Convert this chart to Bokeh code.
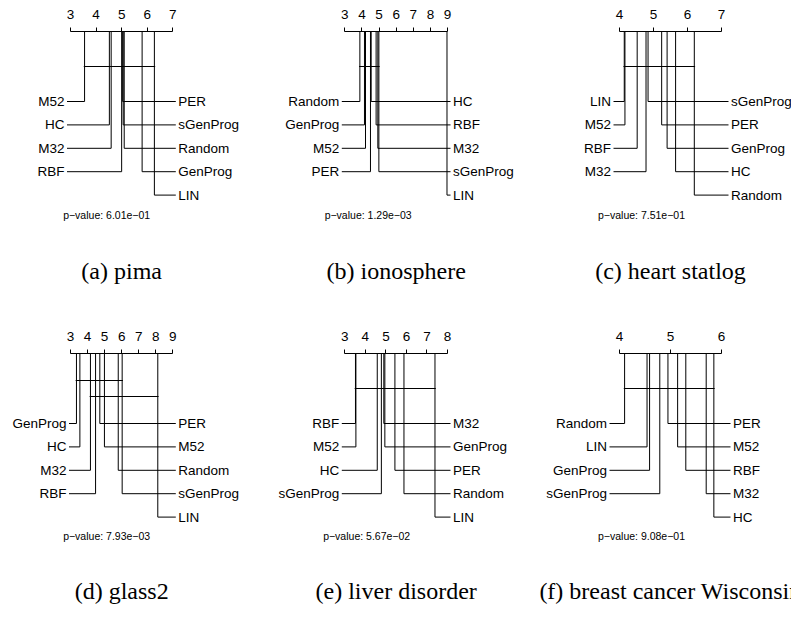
from bokeh.plotting import figure
from bokeh.layouts import gridplot
from bokeh.models import Range1d, LinearAxis, FixedTicker, ColumnDataSource
from bokeh.embed import file_html
from bokeh.resources import INLINE
from bokeh.core.properties import value

# Average Friedman ranks of each method per dataset (lower is better)
pima_methods = ["M52", "HC", "M32", "RBF", "PER", "sGenProg", "Random", "GenProg", "LIN"]
pima_ranks = [3.55, 4.52, 4.59, 5.00, 5.04, 5.06, 5.10, 5.80, 6.28]
pima_cliques = [("M52", "LIN")]

iono_methods = ["Random", "GenProg", "M52", "PER", "HC", "RBF", "M32", "sGenProg", "LIN"]
iono_ranks = [3.88, 4.15, 4.21, 4.50, 4.54, 4.83, 4.93, 4.99, 8.97]
iono_cliques = [("Random", "sGenProg")]

heart_methods = ["LIN", "M52", "RBF", "M32", "sGenProg", "PER", "GenProg", "HC", "Random"]
heart_ranks = [4.14, 4.16, 4.52, 4.78, 4.84, 5.24, 5.40, 5.65, 6.20]
heart_cliques = [("LIN", "Random")]

glass_methods = ["GenProg", "HC", "M32", "RBF", "PER", "M52", "Random", "sGenProg", "LIN"]
glass_ranks = [3.35, 3.55, 4.17, 4.47, 4.72, 4.99, 5.80, 6.03, 8.12]
glass_cliques = [("GenProg", "sGenProg"), ("M32", "LIN")]

liver_methods = ["RBF", "M52", "HC", "sGenProg", "M32", "GenProg", "PER", "Random", "LIN"]
liver_ranks = [3.52, 3.54, 4.58, 4.78, 4.90, 4.95, 5.44, 5.88, 7.39]
liver_cliques = [("RBF", "LIN")]

breast_methods = ["Random", "LIN", "GenProg", "sGenProg", "PER", "M52", "RBF", "M32", "HC"]
breast_ranks = [4.10, 4.54, 4.59, 4.79, 4.95, 5.14, 5.30, 5.70, 5.85]
breast_cliques = [("Random", "HC")]

p_values = ["6.01e-01", "1.29e-03", "7.51e-01", "7.93e-03", "5.67e-02", "9.08e-01"]
captions = ["(a) pima", "(b) ionosphere", "(c) heart statlog",
            "(d) glass2", "(e) liver disorder", "(f) breast cancer Wisconsin"]
rank_axes = [(3, 7), (3, 9), (4, 7), (3, 9), (3, 8), (4, 6)]

panels = [
    (pima_methods, pima_ranks, pima_cliques),
    (iono_methods, iono_ranks, iono_cliques),
    (heart_methods, heart_ranks, heart_cliques),
    (glass_methods, glass_ranks, glass_cliques),
    (liver_methods, liver_ranks, liver_cliques),
    (breast_methods, breast_ranks, breast_cliques),
]

# ---- layout (pixels) ----
COL_W = [264, 264, 263]
ROW_H = [322, 295]
AXIS_TOP = 31                                      # axis line distance from panel top
AXIS_PX = [(70, 172.3), (80.3, 183.0), (91, 193)]  # rank axis span inside each column
LEFT_PAD = [3.5, 3.0, 6.0, 1.5, 3.0, 10.0]
RIGHT_PAD = [3.0, 3.0, 7.0, 3.0, 3.0, 9.0]
TEXT_GAP = 2.5
ROW0, ROW_STEP = 70.0, 23.4
CLIQUE_Y, CLIQUE_STEP = 35.0, 16.0
PVAL_DX = [-15, -28, -29, -15, -29.5, -29]
PVAL_Y = [183, 182]
CAPTION_Y = [239, 237]

SANS = value("Liberation Sans")
SERIF = value("Liberation Serif")


def cd_panel(idx, methods, ranks, cliques):
    col, row = idx % 3, idx // 3
    W, H = COL_W[col], ROW_H[row]
    lo, hi = rank_axes[idx]
    a0, a1 = AXIS_PX[col]
    k = (a1 - a0) / (hi - lo)          # pixels per rank unit
    x0 = lo - a0 / k
    frame_h = H - AXIS_TOP

    p = figure(width=W, height=H,
               x_range=Range1d(x0, x0 + W / k),
               y_range=Range1d(frame_h, 0),
               x_axis_location=None, y_axis_location=None,
               toolbar_location=None, output_backend="svg",
               min_border_top=AXIS_TOP, min_border_left=0,
               min_border_right=0, min_border_bottom=0,
               outline_line_color=None, background_fill_color="white")
    p.grid.visible = False

    axis = LinearAxis(ticker=FixedTicker(ticks=list(range(lo, hi + 1))),
                      bounds=(lo, hi), major_tick_in=0, major_tick_out=4,
                      minor_tick_line_color=None, major_label_standoff=9,
                      axis_line_color="black", major_tick_line_color="black",
                      major_label_text_font="Liberation Sans",
                      major_label_text_font_size="13.5px",
                      major_label_text_color="black")
    p.add_layout(axis, "above")

    order = sorted(range(len(ranks)), key=lambda i: ranks[i])
    n_left = len(order) // 2
    left, right = order[:n_left], order[n_left:]

    sx0, sy0, sx1, sy1 = [], [], [], []
    lx, ly, lt = [], [], []
    rx, ry, rt = [], [], []
    left_end = lo - LEFT_PAD[idx] / k
    right_end = hi + RIGHT_PAD[idx] / k
    for r, i in enumerate(left):
        y = ROW0 + r * ROW_STEP
        sx0 += [ranks[i], ranks[i]]; sy0 += [0, y]
        sx1 += [ranks[i], left_end]; sy1 += [y, y]
        lx.append(left_end - TEXT_GAP / k); ly.append(y); lt.append(methods[i])
    for r, i in enumerate(right):
        y = ROW0 + r * ROW_STEP
        sx0 += [ranks[i], ranks[i]]; sy0 += [0, y]
        sx1 += [ranks[i], right_end]; sy1 += [y, y]
        rx.append(right_end + TEXT_GAP / k); ry.append(y); rt.append(methods[i])

    # groups of methods that are not significantly different
    nc = len(cliques)
    for c, (a, b) in enumerate(cliques):
        y = CLIQUE_Y + (c - (nc - 1) / 2) * CLIQUE_STEP
        ra, rb = ranks[methods.index(a)], ranks[methods.index(b)]
        sx0.append(ra - 0.8 / k); sx1.append(rb + 0.8 / k)
        sy0.append(y); sy1.append(y)

    p.segment(x0="x0", y0="y0", x1="x1", y1="y1",
              source=ColumnDataSource(dict(x0=sx0, y0=sy0, x1=sx1, y1=sy1)),
              line_color="black", line_width=1)

    p.text(x=lx, y=ly, text=lt, text_align="right", text_baseline="middle",
           text_font=SANS, text_font_size="13.5px", text_color="black")
    p.text(x=rx, y=ry, text=rt, text_align="left", text_baseline="middle",
           text_font=SANS, text_font_size="13.5px", text_color="black")

    mid = (lo + hi) / 2
    pv = "p\u2212value: " + p_values[idx].replace("-", "\u2212")
    p.text(x=[mid + PVAL_DX[idx] / k], y=[PVAL_Y[row]], text=[pv],
           text_align="center", text_baseline="middle",
           text_font=SANS, text_font_size="10.5px", text_color="black")
    p.text(x=[mid], y=[CAPTION_Y[row]], text=[captions[idx]],
           text_align="center", text_baseline="middle",
           text_font=SERIF, text_font_size="24px", text_color="black")
    return p


figs = [cd_panel(i, *panels[i]) for i in range(6)]
grid = gridplot([figs[:3], figs[3:]], toolbar_location=None)

open("out.html", "w").write(file_html(grid, INLINE))
